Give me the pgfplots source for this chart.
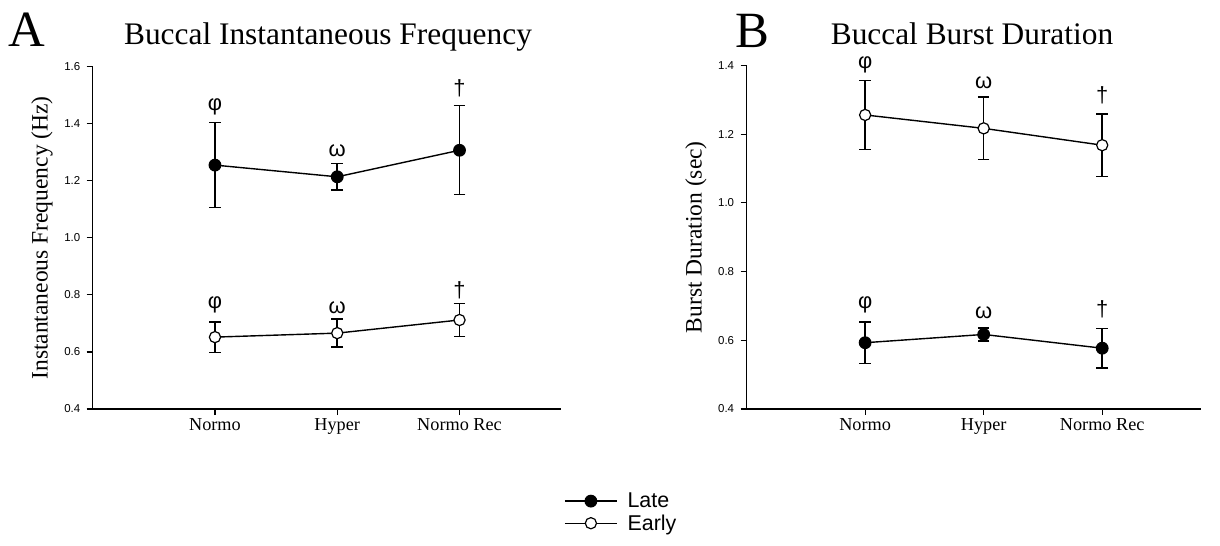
\documentclass[border=0pt]{standalone}
\usepackage{fontspec}
\setmainfont{Liberation Serif}
\usepackage{pgfplots}
\pgfplotsset{compat=1.18}
\newfontfamily\arial{Liberation Sans}

\tikzset{annot/.style={font=\arial\fontsize{22}{24}\selectfont}}
\pgfplotsset{
  myaxis/.style={
    scale only axis,
    axis x line*=bottom, axis y line*=left,
    tick align=outside,
    major tick length=6bp,
    every tick/.style={black, line width=1.2bp},
    axis line style={line width=1.3bp},
    xmin=0, xmax=3.83,
    xtick={1,2,3}, xticklabels={Normo,Hyper,Normo Rec},
    xticklabel style={font=\fontsize{18.3}{20}\selectfont},
    yticklabel style={font=\arial\fontsize{11.5}{13}\selectfont, xshift=-3bp,
      /pgf/number format/.cd, fixed, fixed zerofill, precision=1, assume math mode=true},
    ylabel style={font=\fontsize{23.6}{26}\selectfont, at={(axis description cs:0,0.5)}, anchor=center, yshift=50.7bp},
    clip=false,
  },
  late/.style={black, line width=1.4bp, mark=*, mark size=5.8bp, mark options={fill=black, solid, line width=1.2bp},
    error bars/.cd, y dir=both, y explicit,
    error mark options={line width=1.4bp, mark size=5.8bp, black, rotate=90},
    error bar style={line width=1.5bp, black}},
  early/.style={black, line width=1.4bp, mark=*, mark size=5.6bp, mark options={fill=white, solid, line width=1.2bp},
    error bars/.cd, y dir=both, y explicit,
    error mark options={line width=1.4bp, mark size=5.8bp, black, rotate=90},
    error bar style={line width=1.5bp, black}},
}

\begin{document}
\begin{tikzpicture}
\useasboundingbox (0,0) rectangle (1220bp,546bp);

% Panel A
\begin{axis}[myaxis,
  at={(92.7bp,137bp)}, anchor=south west,
  width=468.3bp, height=342.3bp,
  ymin=0.4, ymax=1.6, ytick={0.4,0.6,...,1.6},
  ylabel={Instantaneous Frequency (Hz)},
  legend style={draw=none, fill=none, inner sep=0pt,
    at={(axis description cs:1.0064,-0.239)}, anchor=north west,
    font=\arial\fontsize{21.5}{23}\selectfont, cells={anchor=west}, row sep=1.5pt},
  legend image code/.code={\draw[mark repeat=2,mark phase=2,#1] plot coordinates {(0bp,0bp) (26bp,0bp) (52bp,0bp)}; \path (60bp,0bp);},
]
\addplot[late] coordinates {
  (1,1.255) +- (0,0.149)
  (2,1.214) +- (0,0.046)
  (3,1.307) +- (0,0.156)
};
\addlegendentry{Late}
\addplot[early] coordinates {
  (1,0.652) +- (0,0.053)
  (2,0.666) +- (0,0.049)
  (3,0.712) +- (0,0.058)
};
\addlegendentry{Early}
\node[annot] at (axis cs:1,1.458) {φ};
\node[annot] at (axis cs:2,1.307) {ω};
\node[annot] at (axis cs:3,1.526) {†};
\node[annot] at (axis cs:1,0.764) {φ};
\node[annot] at (axis cs:2,0.756) {ω};
\node[annot] at (axis cs:3,0.815) {†};
\end{axis}

% Panel B
\begin{axis}[myaxis,
  at={(746.6bp,137bp)}, anchor=south west,
  width=454bp, height=343.5bp,
  ymin=0.4, ymax=1.4, ytick={0.4,0.6,...,1.4},
  ylabel={Burst Duration (sec)},
]
\addplot[late] coordinates {
  (1,0.593) +- (0,0.060)
  (2,0.617) +- (0,0.019)
  (3,0.577) +- (0,0.058)
};
\addplot[early] coordinates {
  (1,1.256) +- (0,0.100)
  (2,1.217) +- (0,0.091)
  (3,1.168) +- (0,0.091)
};
\node[annot] at (axis cs:1,1.401) {φ};
\node[annot] at (axis cs:2,1.349) {ω};
\node[annot] at (axis cs:3,1.312) {†};
\node[annot] at (axis cs:1,0.702) {φ};
\node[annot] at (axis cs:2,0.680) {ω};
\node[annot] at (axis cs:3,0.690) {†};
\end{axis}

% Titles
\node[anchor=base, font=\fontsize{51}{55}\selectfont] at (27bp,499bp) {A};
\node[anchor=base, font=\fontsize{31.5}{34}\selectfont] at (328bp,501bp) {Buccal Instantaneous Frequency};
\node[anchor=base, font=\fontsize{51}{55}\selectfont] at (752bp,498bp) {B};
\node[anchor=base, font=\fontsize{31.5}{34}\selectfont] at (972bp,501bp) {Buccal Burst Duration};
\end{tikzpicture}
\end{document}
